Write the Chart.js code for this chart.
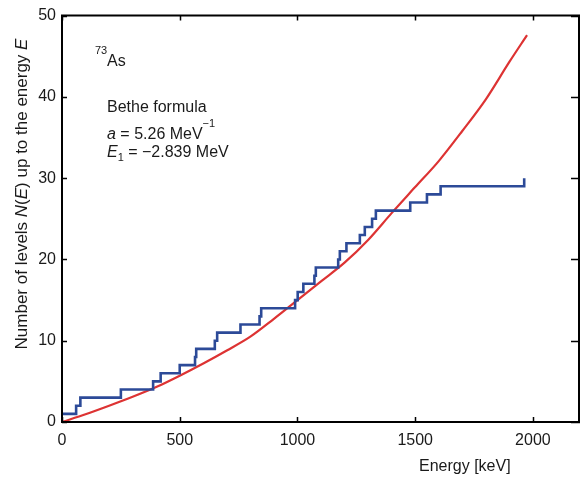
<!DOCTYPE html>
<html>
<head>
<meta charset="utf-8">
<script src="https://cdn.jsdelivr.net/npm/chart.js@4.4.1/dist/chart.umd.min.js"></script>
<style>
  html, body { margin: 0; padding: 0; background: #fff; }
  canvas { display: block; }
</style>
</head>
<body>
<canvas id="c" width="580" height="478"></canvas>
<script>
// ---- data ----
const levelEnergies = [0, 60, 78, 250, 387, 419, 500, 565, 570, 649, 659, 758, 839, 846, 990, 1001, 1025, 1072, 1078, 1173, 1180, 1208, 1265, 1286, 1317, 1333, 1479, 1550, 1608, 1963];
const levelCounts   = [1, 2, 3, 4, 5, 6, 7, 8, 9, 10, 11, 12, 13, 14, 15, 16, 17, 18, 19, 20, 21, 22, 23, 24, 25, 26, 27, 28, 29, 30];
const betheEnergies = [0, 100, 200, 300, 400, 500, 600, 700, 800, 900, 1000, 1100, 1200, 1300, 1400, 1500, 1600, 1700, 1800, 1900, 1975];
const betheCounts   = [0, 0.95, 2.0, 3.1, 4.3, 5.7, 7.2, 8.8, 10.5, 12.7, 15.0, 17.3, 19.6, 22.4, 25.7, 28.9, 32.1, 35.8, 39.7, 44.3, 47.6];
const xTickValues = [0, 500, 1000, 1500, 2000];
const yTickValues = [0, 10, 20, 30, 40, 50];

const FONT = '"Liberation Sans", Arial, Helvetica, sans-serif';

const stepData = levelEnergies.map((e, i) => ({ x: e, y: levelCounts[i] }));
const betheData = betheEnergies.map((e, i) => ({ x: e, y: betheCounts[i] }));

const framePlugin = {
  id: 'frame',
  beforeDraw(chart) {
    const ctx = chart.ctx;
    ctx.save();
    ctx.fillStyle = '#fff';
    ctx.fillRect(0, 0, chart.width, chart.height);
    ctx.restore();
  },
  afterDatasetsDraw(chart) {
    const ctx = chart.ctx;
    const a = chart.chartArea;
    const xs = chart.scales.x, ys = chart.scales.y;
    ctx.save();
    ctx.strokeStyle = '#000';
    ctx.lineWidth = 2;
    ctx.beginPath();
    ctx.rect(a.left, a.top, a.right - a.left - 1, a.bottom - a.top);
    ctx.stroke();
    const tl = 5;
    ctx.lineWidth = 1.5;
    ctx.beginPath();
    xTickValues.forEach(v => {
      const px = Math.round(xs.getPixelForValue(v)) + 0.5;
      ctx.moveTo(px, a.bottom); ctx.lineTo(px, a.bottom - tl);
      ctx.moveTo(px, a.top); ctx.lineTo(px, a.top + tl);
    });
    yTickValues.forEach(v => {
      const py = Math.round(ys.getPixelForValue(v)) + 0.5;
      ctx.moveTo(a.left, py); ctx.lineTo(a.left + tl, py);
      ctx.moveTo(a.right, py); ctx.lineTo(a.right - tl - 4, py);
    });
    ctx.stroke();
    ctx.restore();
  },
  afterDraw(chart) {
    const ctx = chart.ctx;
    ctx.save();
    ctx.fillStyle = '#1a1a1a';
    ctx.textBaseline = 'alphabetic';
    ctx.textAlign = 'left';
    // x-axis title
    ctx.font = '16px ' + FONT;
    ctx.fillText('Energy [keV]', 419, 471);

    // y-axis title with italic parts, rotated
    const parts = [
      ['Number of levels ', false], ['N', true], ['(', false], ['E', true],
      [') up to the energy ', false], ['E', true]
    ];
    const yfs = '17px ';
    let total = 0;
    parts.forEach(p => { ctx.font = (p[1] ? 'italic ' : '') + yfs + FONT; total += ctx.measureText(p[0]).width; });
    ctx.translate(27, 194);
    ctx.rotate(-Math.PI / 2);
    let cx = -total / 2;
    parts.forEach(p => {
      ctx.font = (p[1] ? 'italic ' : '') + yfs + FONT;
      ctx.fillText(p[0], cx, 0);
      cx += ctx.measureText(p[0]).width;
    });
    ctx.setTransform(1, 0, 0, 1, 0, 0);

    // annotations
    ctx.font = '11px ' + FONT;
    ctx.fillText('73', 95, 54);
    ctx.font = '16px ' + FONT;
    ctx.fillText('As', 107, 66);
    ctx.fillText('Bethe formula', 107, 112);

    let x = 107;
    ctx.font = 'italic 16px ' + FONT;
    ctx.fillText('a', x, 139); x += ctx.measureText('a').width;
    ctx.font = '16px ' + FONT;
    ctx.fillText(' = 5.26 MeV', x, 139); x += ctx.measureText(' = 5.26 MeV').width;
    ctx.font = '11px ' + FONT;
    ctx.fillText('\u22121', x, 127);

    x = 107;
    ctx.font = 'italic 16px ' + FONT;
    ctx.fillText('E', x, 157); x += ctx.measureText('E').width;
    ctx.font = '11px ' + FONT;
    ctx.fillText('1', x, 161); x += ctx.measureText('1').width;
    ctx.font = '16px ' + FONT;
    ctx.fillText(' = \u22122.839 MeV', x, 157);
    ctx.restore();
  }
};

new Chart(document.getElementById('c'), {
  type: 'line',
  data: {
    datasets: [
      {
        label: 'Levels',
        data: stepData,
        stepped: 'before',
        borderColor: '#2c4a98',
        borderWidth: 2.6,
        pointRadius: 0,
        fill: false
      },
      {
        label: 'Bethe formula',
        data: betheData,
        borderColor: '#dd3333',
        borderWidth: 2.2,
        pointRadius: 0,
        cubicInterpolationMode: 'monotone',
        fill: false
      }
    ]
  },
  plugins: [framePlugin],
  options: {
    responsive: false,
    animation: false,
    events: [],
    layout: { padding: { top: 15, right: 0, left: 0, bottom: 0 } },
    plugins: { legend: { display: false }, tooltip: { enabled: false } },
    scales: {
      x: {
        type: 'linear',
        min: 0, max: 2200,
        grid: { display: false, drawTicks: false },
        border: { display: false },
        afterBuildTicks(s) { s.ticks = xTickValues.map(v => ({ value: v })); },
        ticks: {
          padding: 9, autoSkip: false,
          callback: v => String(v),
          color: '#1a1a1a', font: { family: FONT, size: 16 }, maxRotation: 0
        },
        afterFit(s) { s.height = 56; }
      },
      y: {
        type: 'linear',
        min: 0, max: 50,
        grid: { display: false, drawTicks: false },
        border: { display: false },
        afterBuildTicks(s) { s.ticks = yTickValues.map(v => ({ value: v })); },
        ticks: {
          padding: 6, autoSkip: false,
          callback: v => String(v),
          color: '#1a1a1a', font: { family: FONT, size: 16 }
        },
        afterFit(s) { s.width = 62; }
      }
    }
  }
});
</script>
</body>
</html>
